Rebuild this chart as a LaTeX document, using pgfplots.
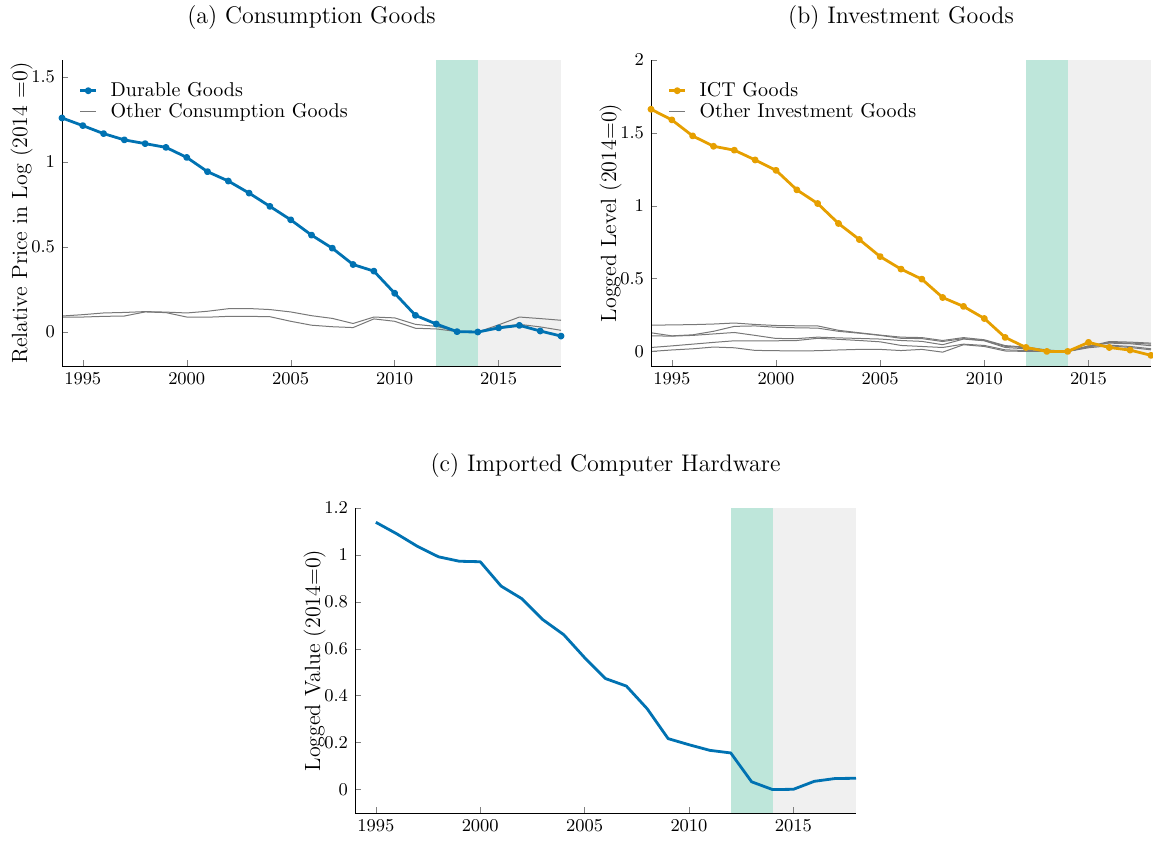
\documentclass[border=0pt]{standalone}
\usepackage{pgfplots}
\pgfplotsset{compat=1.18}
\definecolor{dblue}{RGB}{0,114,178}
\definecolor{ictorange}{RGB}{230,159,0}
\definecolor{shgreen}{RGB}{190,230,218}
\definecolor{shgray}{RGB}{240,240,240}
\definecolor{ogray}{RGB}{120,120,120}
\pgfplotsset{
  panel/.style={
    scale only axis,
    axis lines*=left,
    axis on top,
    tick align=inside,
    major tick length=3pt,
    xmin=1994, xmax=2018,
    xtick={1995,2000,2005,2010,2015},
    xticklabel style={/pgf/number format/1000 sep=, font=\fontsize{9}{10}\selectfont},
    yticklabel style={/pgf/number format/fixed, font=\fontsize{9}{10}\selectfont},
    ylabel style={font=\fontsize{11}{12}\selectfont, yshift=-7.5pt},
    title style={font=\fontsize{12}{14}\selectfont, at={(0.5,1)}, anchor=south, yshift=5.5pt},
    legend style={draw=none, fill=none, at={(0.021,0.955)}, anchor=north west,
      font=\fontsize{10}{11}\selectfont, row sep=-2pt,
      /tikz/every odd column/.append style={column sep=4.5pt}},
    legend cell align=left,
    legend image code/.code={\draw[mark repeat=2,mark phase=2,#1] plot coordinates {(0cm,0cm) (0.14cm,0cm) (0.28cm,0cm)};},
    every axis plot/.append style={line join=round},
  }
}
\begin{document}
\begin{tikzpicture}
\path[use as bounding box] (0,0) rectangle (576.5pt,421pt);
% ---------------- (a)
\begin{axis}[panel, at={(31pt,238pt)}, anchor=south west,
  width=249.5pt, height=153pt,
  ymin=-0.2, ymax=1.6, ytick={0,0.5,1,1.5},
  title={(a) Consumption Goods},
  ylabel={Relative Price in Log (2014 =0)}]
\addplot[fill=shgreen, draw=none, forget plot] coordinates {(2012,-0.2) (2012,1.6) (2014,1.6) (2014,-0.2)} -- cycle;
\addplot[fill=shgray, draw=none, forget plot] coordinates {(2014,-0.2) (2014,1.6) (2018,1.6) (2018,-0.2)} -- cycle;
\addlegendimage{dblue, line width=1.4pt, mark=*, mark size=1pt}
\addlegendentry{Durable Goods}
\addlegendimage{ogray, line width=0.5pt}
\addlegendentry{Other Consumption Goods}
\addplot[ogray, line width=0.5pt, forget plot] coordinates {
(1994,0.094) (1995,0.102) (1996,0.112) (1997,0.115) (1998,0.120) (1999,0.117) (2000,0.112) (2001,0.122) (2002,0.137) (2003,0.138) (2004,0.132) (2005,0.118) (2006,0.096) (2007,0.080) (2008,0.050) (2009,0.088) (2010,0.083) (2011,0.045) (2012,0.033) (2013,0.005) (2014,0) (2015,0.042) (2016,0.088) (2017,0.079) (2018,0.069)};
\addplot[ogray, line width=0.5pt, forget plot] coordinates {
(1994,0.088) (1995,0.088) (1996,0.092) (1997,0.094) (1998,0.118) (1999,0.114) (2000,0.088) (2001,0.087) (2002,0.092) (2003,0.092) (2004,0.090) (2005,0.063) (2006,0.040) (2007,0.031) (2008,0.026) (2009,0.077) (2010,0.063) (2011,0.022) (2012,0.018) (2013,0.003) (2014,0) (2015,0.030) (2016,0.045) (2017,0.030) (2018,0.010)};
\addplot[dblue, line width=1.4pt, mark=*, mark size=1pt, forget plot] coordinates {
(1994,1.259) (1995,1.214) (1996,1.167) (1997,1.130) (1998,1.108) (1999,1.086) (2000,1.027) (2001,0.943) (2002,0.888) (2003,0.817) (2004,0.739) (2005,0.660) (2006,0.570) (2007,0.493) (2008,0.397) (2009,0.358) (2010,0.228) (2011,0.098) (2012,0.047) (2013,0.002) (2014,0) (2015,0.024) (2016,0.039) (2017,0.006) (2018,-0.024)};
\end{axis}
% ---------------- (b)
\begin{axis}[panel, at={(325.5pt,238pt)}, anchor=south west,
  width=250pt, height=153pt,
  ymin=-0.1, ymax=2, ytick={0,0.5,1,1.5,2},
  title={(b) Investment Goods},
  ylabel={Logged Level (2014=0)}]
\addplot[fill=shgreen, draw=none, forget plot] coordinates {(2012,-0.1) (2012,2) (2014,2) (2014,-0.1)} -- cycle;
\addplot[fill=shgray, draw=none, forget plot] coordinates {(2014,-0.1) (2014,2) (2018,2) (2018,-0.1)} -- cycle;
\addlegendimage{ictorange, line width=1.4pt, mark=*, mark size=1pt}
\addlegendentry{ICT Goods}
\addlegendimage{ogray, line width=0.5pt}
\addlegendentry{Other Investment Goods}
\addplot[ogray, line width=0.5pt, forget plot] coordinates {
(1994,0.180) (1995,0.182) (1996,0.184) (1997,0.188) (1998,0.195) (1999,0.185) (2000,0.178) (2001,0.176) (2002,0.175) (2003,0.145) (2004,0.128) (2005,0.112) (2006,0.098) (2007,0.095) (2008,0.075) (2009,0.095) (2010,0.080) (2011,0.040) (2012,0.030) (2013,0.010) (2014,0) (2015,0.034) (2016,0.068) (2017,0.064) (2018,0.057)};
\addplot[ogray, line width=0.5pt, forget plot] coordinates {
(1994,0.128) (1995,0.107) (1996,0.114) (1997,0.138) (1998,0.172) (1999,0.175) (2000,0.166) (2001,0.162) (2002,0.160) (2003,0.138) (2004,0.125) (2005,0.110) (2006,0.090) (2007,0.088) (2008,0.068) (2009,0.088) (2010,0.075) (2011,0.035) (2012,0.025) (2013,0.008) (2014,0) (2015,0.030) (2016,0.062) (2017,0.058) (2018,0.050)};
\addplot[ogray, line width=0.5pt, forget plot] coordinates {
(1994,0.107) (1995,0.105) (1996,0.110) (1997,0.120) (1998,0.130) (1999,0.110) (2000,0.089) (2001,0.088) (2002,0.098) (2003,0.093) (2004,0.089) (2005,0.085) (2006,0.075) (2007,0.069) (2008,0.046) (2009,0.085) (2010,0.073) (2011,0.027) (2012,0.018) (2013,0.005) (2014,0) (2015,0.039) (2016,0.057) (2017,0.053) (2018,0.039)};
\addplot[ogray, line width=0.5pt, forget plot] coordinates {
(1994,0.027) (1995,0.038) (1996,0.050) (1997,0.062) (1998,0.073) (1999,0.073) (2000,0.073) (2001,0.075) (2002,0.090) (2003,0.083) (2004,0.075) (2005,0.066) (2006,0.041) (2007,0.034) (2008,0.027) (2009,0.050) (2010,0.041) (2011,0.011) (2012,0.006) (2013,0.002) (2014,0) (2015,0.034) (2016,0.043) (2017,0.034) (2018,0.018)};
\addplot[ogray, line width=0.5pt, forget plot] coordinates {
(1994,0.000) (1995,0.010) (1996,0.018) (1997,0.030) (1998,0.025) (1999,0.007) (2000,0.005) (2001,0.003) (2002,0.005) (2003,0.010) (2004,0.014) (2005,0.014) (2006,0.006) (2007,0.014) (2008,-0.005) (2009,0.046) (2010,0.034) (2011,0.003) (2012,0.000) (2013,0.000) (2014,0) (2015,0.025) (2016,0.039) (2017,0.027) (2018,0.011)};
\addplot[ictorange, line width=1.4pt, mark=*, mark size=1pt, forget plot] coordinates {
(1994,1.662) (1995,1.589) (1996,1.479) (1997,1.408) (1998,1.381) (1999,1.314) (2000,1.243) (2001,1.109) (2002,1.015) (2003,0.878) (2004,0.768) (2005,0.651) (2006,0.565) (2007,0.496) (2008,0.370) (2009,0.309) (2010,0.226) (2011,0.096) (2012,0.027) (2013,0.000) (2014,0) (2015,0.062) (2016,0.027) (2017,0.009) (2018,-0.027)};
\end{axis}
% ---------------- (c)
\begin{axis}[panel, at={(177.5pt,14.5pt)}, anchor=south west,
  width=250.5pt, height=152.5pt,
  ymin=-0.1, ymax=1.2, ytick={0,0.2,0.4,0.6,0.8,1,1.2},
  title={(c) Imported Computer Hardware},
  ylabel={Logged Value (2014=0)}]
\addplot[fill=shgreen, draw=none, forget plot] coordinates {(2012,-0.1) (2012,1.2) (2014,1.2) (2014,-0.1)} -- cycle;
\addplot[fill=shgray, draw=none, forget plot] coordinates {(2014,-0.1) (2014,1.2) (2018,1.2) (2018,-0.1)} -- cycle;
\addplot[dblue, line width=1.4pt, forget plot] coordinates {
(1995,1.139) (1996,1.090) (1997,1.036) (1998,0.992) (1999,0.973) (2000,0.971) (2001,0.867) (2002,0.813) (2003,0.724) (2004,0.660) (2005,0.562) (2006,0.473) (2007,0.441) (2008,0.344) (2009,0.217) (2010,0.191) (2011,0.167) (2012,0.156) (2013,0.033) (2014,0) (2015,0.001) (2016,0.035) (2017,0.047) (2018,0.048)};
\end{axis}
\end{tikzpicture}
\end{document}
